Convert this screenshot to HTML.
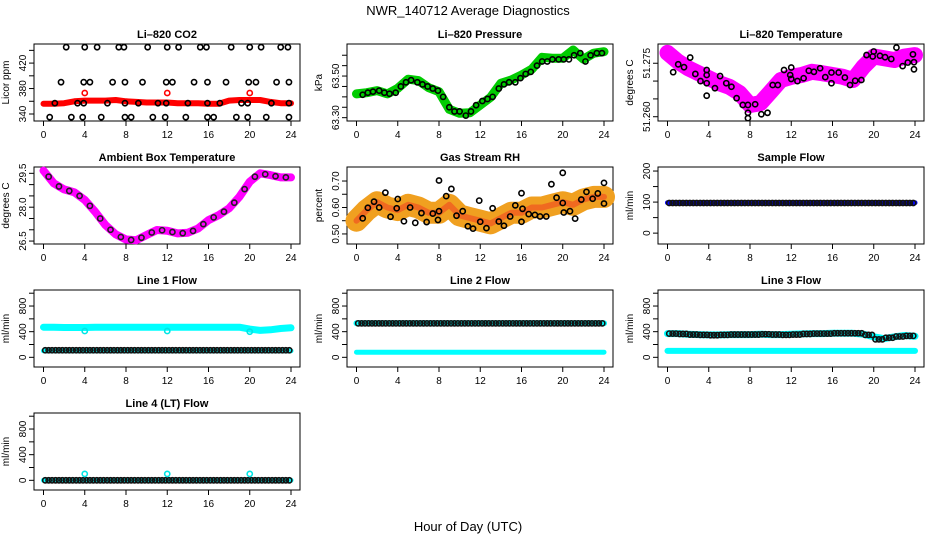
<!DOCTYPE html>
<html><head><meta charset="utf-8"><style>
body{margin:0;background:#fff;}
svg{display:block;font-family:"Liberation Sans",Arial,sans-serif;}
</style></head><body>
<svg id="c" width="936" height="540" viewBox="0 0 936 540">
<text x="468" y="15" text-anchor="middle" font-size="13">NWR_140712  Average Diagnostics</text>
<text x="468" y="531" text-anchor="middle" font-size="13">Hour of Day (UTC)</text>
</svg>
<script>
const hours=[0,1,2,3,4,5,6,7,8,9,10,11,12,13,14,15,16,17,18,19,20,21,22,23,24];
const halfHours=[0.5,1.5,2.5,3.5,4.5,5.5,6.5,7.5,8.5,9.5,10.5,11.5,12.5,13.5,14.5,15.5,16.5,17.5,18.5,19.5,20.5,21.5,22.5,23.5];
const xTicks=[0,4,8,12,16,20,24];
// CO2
const co2Band=[356,356,357,360,361,361,361,362,360,359,358,358,358,357,357,357,356,356,361,362,362,362,359,357,357];
const co2PtsT=[2.2,4,5.2,7.3,7.8,10.1,12,13.1,15.2,15.8,18.2,20,21.1,23,23.7,1.7,3.9,4.5,6.7,7.9,9.6,11.9,12.5,14.6,15.9,17.7,19.9,20.6,22.6,23.8,1.1,3.3,3.9,6.2,7.9,9.2,11.1,11.9,14,15.9,17.1,19.2,19.8,22.1,23.8,0.6,2.7,3.8,5.6,7.9,8.5,10.6,11.8,13.8,15.9,16.5,18.7,19.8,21.6,23.8];
const co2PtsV=[445,445,445,445,445,445,445,445,445,445,445,445,445,445,445,390,390,390,390,390,390,390,390,390,390,390,390,390,390,390,357,357,357,357,357,357,357,357,357,357,357,357,357,357,357,335,335,335,335,335,335,335,335,335,335,335,335,335,335,335];
const co2RedT=[4,12,20];
const co2RedV=[373,373,373];
// Pressure
const presBand=[63.414,63.420,63.430,63.414,63.441,63.485,63.478,63.444,63.425,63.340,63.321,63.324,63.361,63.398,63.465,63.481,63.505,63.533,63.590,63.586,63.586,63.625,63.581,63.610,63.617];
const presPtsT=[0.6,1.1,1.6,2.2,2.7,3.2,3.8,4.3,4.8,5.3,5.9,6.4,6.9,7.4,7.9,8.4,9.0,9.5,10.0,10.6,11.1,11.6,12.2,12.7,13.2,13.8,14.3,14.8,15.4,15.9,16.4,16.9,17.5,18.0,18.5,19.0,19.6,20.1,20.6,21.1,21.7,22.2,22.7,23.3,23.8];
const presPtsV=[63.41,63.42,63.425,63.43,63.42,63.415,63.42,63.45,63.47,63.48,63.47,63.46,63.45,63.44,63.43,63.40,63.35,63.33,63.33,63.31,63.33,63.36,63.38,63.39,63.40,63.44,63.46,63.47,63.47,63.49,63.51,63.52,63.55,63.57,63.57,63.58,63.58,63.58,63.58,63.60,63.61,63.57,63.60,63.61,63.61];
// Li-820 temperature
const tempBand=[51.2779,51.2755,51.2736,51.2722,51.2708,51.2694,51.2684,51.2666,51.2633,51.2638,51.2670,51.2703,51.2712,51.2717,51.2726,51.2722,51.2717,51.2712,51.2703,51.2740,51.2769,51.2764,51.2759,51.2769,51.2773];
const tempPtsT=[0.55,1.04,1.6,2.2,2.7,3.2,3.8,3.8,3.8,3.8,4.6,5.1,5.7,6.2,6.7,7.3,7.8,7.8,7.8,8.5,9.1,9.7,10.2,10.7,11.3,11.9,12.0,12.0,12.6,13.2,13.7,14.2,14.8,15.3,15.9,15.9,16.6,17.2,17.7,18.2,18.8,19.3,19.9,20.0,20.6,21.1,21.7,22.2,22.8,23.3,23.8,23.9,23.9];
const tempPtsV=[51.2725,51.2747,51.2739,51.2766,51.2720,51.2700,51.2731,51.2717,51.2694,51.2659,51.2680,51.2714,51.2694,51.2684,51.2652,51.2633,51.2633,51.2611,51.2596,51.2635,51.2607,51.2611,51.2689,51.2689,51.2731,51.2717,51.2738,51.2706,51.2700,51.2708,51.2729,51.2726,51.2736,51.2711,51.2724,51.2694,51.2724,51.2710,51.2689,51.2701,51.2703,51.2773,51.2769,51.2783,51.2771,51.2767,51.2762,51.2794,51.2742,51.2752,51.2775,51.2753,51.2733];
// Ambient box temperature
const ambBand=[29.62,29.06,28.79,28.66,28.32,27.80,27.21,26.80,26.57,26.54,26.77,26.99,26.96,26.84,26.87,27.06,27.43,27.65,27.95,28.46,29.13,29.50,29.42,29.32,29.32];
const ambPts=[29.35,28.92,28.72,28.50,28.06,27.50,27.00,26.68,26.55,26.65,26.88,26.98,26.90,26.85,26.95,27.25,27.55,27.80,28.20,28.80,29.35,29.46,29.37,29.32];
// RH
const rhBand=[0.55,0.59,0.62,0.60,0.59,0.61,0.60,0.58,0.58,0.61,0.57,0.56,0.55,0.54,0.56,0.58,0.58,0.60,0.60,0.61,0.62,0.61,0.63,0.64,0.64];
const rhPtsT=[0.6,1.1,1.7,2.2,2.8,3.3,3.9,4.0,4.6,5.2,5.7,6.3,6.8,7.4,7.9,8.0,8.0,8.7,9.2,9.7,10.3,10.8,11.3,11.9,12.0,12.6,13.2,13.8,14.3,14.9,15.4,16.0,16.0,16.1,16.7,17.3,17.8,18.4,18.9,19.4,20.0,20.1,20.0,20.7,21.2,21.8,22.3,22.9,23.4,24,24];
const rhPtsV=[0.559,0.599,0.622,0.600,0.656,0.565,0.597,0.632,0.548,0.600,0.542,0.579,0.545,0.577,0.553,0.586,0.702,0.643,0.670,0.569,0.586,0.529,0.520,0.626,0.546,0.522,0.597,0.547,0.531,0.566,0.608,0.654,0.546,0.595,0.575,0.572,0.566,0.566,0.688,0.637,0.617,0.581,0.731,0.586,0.558,0.630,0.659,0.633,0.653,0.693,0.615];
// Flows
const sampleBand=[98,98,98,98,98,98,98,98,98,98,98,98,98,98,98,98,98,98,98,98,98,98,98,98,98];
const samplePts=[97,97,97,97,97,97,97,97,97,97,97,97,97,97,97,97,97,97,97,97,97,97,97,97];
const l1Hi=[470,470,465,465,465,470,470,470,470,470,470,470,470,470,470,470,470,470,470,470,440,420,430,450,460];
const l1Lo=[100,100,100,100,100,100,100,100,100,100,100,100,100,100,100,100,100,100,100,100,100,100,100,100,100];
const l1Pts=[110,110,110,110,110,110,110,110,110,110,110,110,110,110,110,110,110,110,110,110,110,110,110,110];
const l2Hi=[530,530,530,530,530,530,530,530,530,530,530,530,530,530,530,530,530,530,530,530,530,530,530,530,530];
const l2Lo=[80,80,80,80,80,80,80,80,80,80,80,80,80,80,80,80,80,80,80,80,80,80,80,80,80];
const l2Pts=[530,530,530,530,530,530,530,530,530,530,530,530,530,530,530,530,530,530,530,530,530,530,530,530];
const l3Hi=[370,370,360,355,350,350,355,355,355,360,355,355,360,365,370,370,375,375,375,360,320,290,320,340,330];
const l3Lo=[100,100,100,100,100,100,100,100,100,100,100,100,100,100,100,100,100,100,100,100,100,100,100,100,100];
const l3Pts=[370,365,355,350,345,350,355,355,355,360,355,350,355,365,370,370,375,375,375,350,280,305,325,335];
const l4Band=[0,0,0,0,0,0,0,0,0,0,0,0,0,0,0,0,0,0,0,0,0,0,0,0,0];
const l4Pts=[0,0,0,0,0,0,0,0,0,0,0,0,0,0,0,0,0,0,0,0,0,0,0,0];
const spikeT=[4,12,20];
const l1SpikeV=[410,410,400];
const l4SpikeV=[100,100,100];
const flowTicks=[0,200,400,600,800,1000];
const flowLabels=["0","","400","","800",""];

const NS="http://www.w3.org/2000/svg";
const svg=document.getElementById('c');
function mk(tag,attrs,parent){const e=document.createElementNS(NS,tag);for(const k in attrs)e.setAttribute(k,attrs[k]);(parent||svg).appendChild(e);return e;}
const W=266,H=77;
function sx(p,t){return p.left+9.5+t*(247.5/24);}
function sy(p,v){return p.top+H*(p.ymax-v)/(p.ymax-p.ymin);}
function panel(p){
  const g=mk('g',{});
  
  
  p.g=g;
  const t=mk('text',{x:p.left+W/2,y:p.top-6,'text-anchor':'middle','font-size':'11','font-weight':'bold'},g);
  t.textContent=p.title;
  
  
  const yl=mk('text',{x:0,y:0,'text-anchor':'middle','font-size':'10',transform:`translate(${p.left-25},${p.top+H/2}) rotate(-90)`},g);
  yl.textContent=p.ylab;
  
  
  const r=mk('rect',{x:p.left,y:p.top,width:W,height:H,fill:'none',stroke:'#000','stroke-width':1},g);
  
  
  xTicks.forEach(v=>{
    const x=sx(p,v);
    mk('line',{x1:x,x2:x,y1:p.top+H,y2:p.top+H+5,stroke:'#000'},g);
    const tl=mk('text',{x:x,y:p.top+H+17,'text-anchor':'middle','font-size':'10'},g);
    tl.textContent=v;
    
    
  });
  p.ticks.forEach((v,i)=>{
    const y=sy(p,v);
    mk('line',{x1:p.left-5,x2:p.left,y1:y,y2:y,stroke:'#000'},g);
    if(p.labels[i]){
      const tl=mk('text',{x:0,y:0,'text-anchor':'middle','font-size':'10',transform:`translate(${p.left-8},${y}) rotate(-90)`},g);
      tl.textContent=p.labels[i];
      
      
    }
  });
  return p;
}
function band(p,ts,vs,color,w,name){
  const pts=ts.map((t,i)=>sx(p,t).toFixed(1)+','+sy(p,vs[i]).toFixed(1)).join(' ');
  const l=mk('polyline',{points:pts,fill:'none',stroke:color,'stroke-width':w,'stroke-linejoin':'round','stroke-linecap':'round'},p.g);
  
  
}
function pts(p,ts,vs,color,name,r){
  ts.forEach((t,i)=>{
    const c=mk('circle',{cx:sx(p,t),cy:sy(p,vs[i]),r:r||2.6,fill:'none',stroke:color,'stroke-width':1.6},p.g);
    
    
  });
}
function ptsRep(p,vs,color,name){
  // three markers per hour slot, same value
  [0.17,0.5,0.83].forEach(o=>{pts(p,vs.map((v,i)=>i+o),vs,color,name);});
}
const C1=34,C2=347,C3=658,R1=44,R2=167,R3=290,R4=413;

const p1=panel({name:'co2',title:'Li\u2013820 CO2',ylab:'Licor ppm',left:C1,top:R1,ymin:329,ymax:450,ticks:[340,360,380,400,420,440],labels:['340','','380','','420','']});
band(p1,hours,co2Band,'#ff0000',6,'co2-series');
pts(p1,co2PtsT,co2PtsV,'#000','co2-point');
pts(p1,co2RedT,co2RedV,'#ff0000','co2-red-point');

const p2=panel({name:'pressure',title:'Li\u2013820 Pressure',ylab:'kPa',left:C2,top:R1,ymin:63.284,ymax:63.654,ticks:[63.30,63.35,63.40,63.45,63.50,63.55,63.60],labels:['63.30','','','','63.50','','']});
band(p2,hours,presBand,'#00cc00',9,'pressure-series');
pts(p2,presPtsT,presPtsV,'#000','pressure-point');

const p3=panel({name:'li820-temp',title:'Li\u2013820 Temperature',ylab:'degrees C',left:C3,top:R1,ymin:51.2588,ymax:51.2804,ticks:[51.260,51.265,51.270,51.275],labels:['51.260','','','51.275']});
band(p3,hours,tempBand,'#ff00ff',16,'li820-temp-series');
pts(p3,tempPtsT,tempPtsV,'#000','li820-temp-point');

const p4=panel({name:'ambient',title:'Ambient Box Temperature',ylab:'degrees C',left:C1,top:R2,ymin:26.37,ymax:29.78,ticks:[26.5,27,27.5,28,28.5,29,29.5],labels:['26.5','','','28.0','','','29.5']});
band(p4,hours,ambBand,'#ff00ff',8,'ambient-series');
pts(p4,halfHours,ambPts,'#222','ambient-point');

const p5=panel({name:'rh',title:'Gas Stream RH',ylab:'percent',left:C2,top:R2,ymin:0.462,ymax:0.753,ticks:[0.50,0.55,0.60,0.65,0.70],labels:['0.50','','0.60','','0.70']});
band(p5,hours,rhBand,'#f0a020',22,'rh-series');
band(p5,hours,rhBand,'#f06a20',6,'rh-series-core');
pts(p5,rhPtsT,rhPtsV,'#000','rh-point');

const p6=panel({name:'sample-flow',title:'Sample Flow',ylab:'ml/min',left:C3,top:R2,ymin:-35,ymax:213,ticks:[0,50,100,150,200],labels:['0','','100','','200']});
band(p6,hours,sampleBand,'#0000ff',5,'sample-flow-series');
ptsRep(p6,samplePts,'#111','sample-flow-point');

const p7=panel({name:'line1',title:'Line 1 Flow',ylab:'ml/min',left:C1,top:R3,ymin:-151,ymax:1050,ticks:flowTicks,labels:flowLabels});
band(p7,hours,l1Hi,'#00ffff',7,'line1-high-series');
band(p7,hours,l1Lo,'#00ffff',5,'line1-low-series');
ptsRep(p7,l1Pts,'#111','line1-point');
pts(p7,spikeT,l1SpikeV,'#00e5e5','line1-spike');

const p8=panel({name:'line2',title:'Line 2 Flow',ylab:'ml/min',left:C2,top:R3,ymin:-151,ymax:1050,ticks:flowTicks,labels:flowLabels});
band(p8,hours,l2Hi,'#00ffff',6,'line2-high-series');
band(p8,hours,l2Lo,'#00ffff',5,'line2-low-series');
ptsRep(p8,l2Pts,'#111','line2-point');

const p9=panel({name:'line3',title:'Line 3 Flow',ylab:'ml/min',left:C3,top:R3,ymin:-151,ymax:1050,ticks:flowTicks,labels:flowLabels});
band(p9,hours,l3Hi,'#00ffff',7,'line3-high-series');
band(p9,hours,l3Lo,'#00ffff',6,'line3-low-series');
ptsRep(p9,l3Pts,'#111','line3-point');

const p10=panel({name:'line4',title:'Line 4 (LT) Flow',ylab:'ml/min',left:C1,top:R4,ymin:-151,ymax:1050,ticks:flowTicks,labels:flowLabels});
band(p10,hours,l4Band,'#00ffff',5,'line4-series');
ptsRep(p10,l4Pts,'#111','line4-point');
pts(p10,spikeT,l4SpikeV,'#00e5e5','line4-spike');
</script>
</body></html>
